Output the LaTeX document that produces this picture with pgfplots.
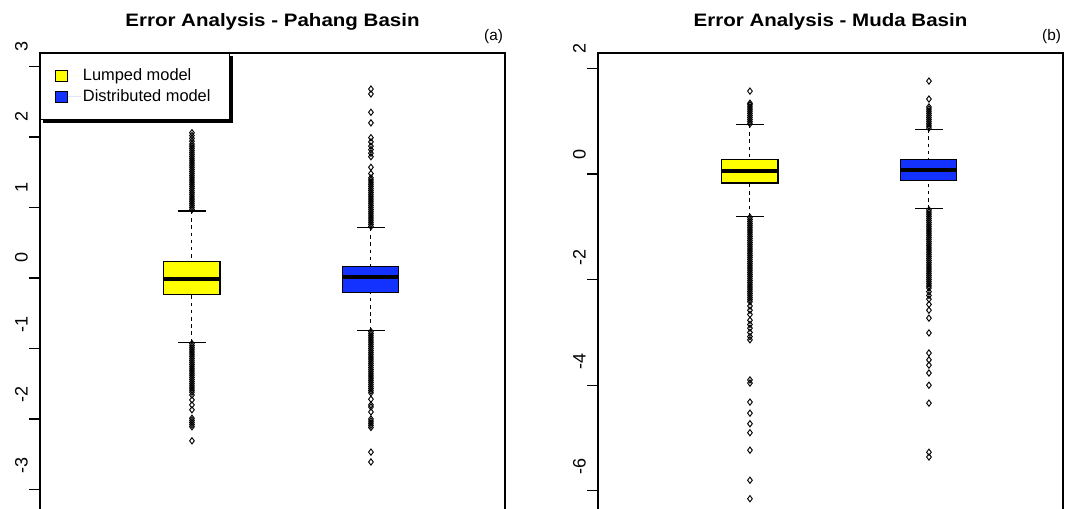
\documentclass[border=0pt]{standalone}
\usepackage{pgfplots}
\pgfplotsset{compat=1.18}
\usepgfplotslibrary{statistics}
\usepackage{fontspec}
\setmainfont{Liberation Sans}
\newfontfamily\titlefam[FakeStretch=1.14]{Liberation Sans}
\definecolor{rblue}{RGB}{20,50,255}
\definecolor{ryellow}{RGB}{255,255,0}

\pgfplotsset{
  rpanel/.style={
    scale only axis, width=348.75pt, height=350.25pt,
    xmin=0.151, xmax=2.749, xtick=\empty,
    axis line style={line width=0.9pt},
    clip=false,
    boxplot/draw direction=y,
    ytick pos=left, tick align=outside, major tick length=0pt,
    yticklabel style={rotate=90, anchor=south, inner sep=0pt, xshift=15pt, font=\fontsize{13.5}{16}\selectfont},
    yticklabel shift=9pt,
    extra y tick style={major tick length=8.25pt, tick style={line width=0.9pt, black}},
    title style={font=\titlefam\bfseries\fontsize{13.5}{16}\selectfont, at={(0.5,1)}, anchor=base, yshift=13.5pt},
    boxplot/box extend=0.313,
    boxplot/whisker extend=0.156,
    boxplot/every median/.style={line width=3.2pt, black},
    boxplot/draw/lower whisker/.code={%
      \draw[black, line width=0.7pt, dash pattern=on 2.6pt off 2.8pt]
        (boxplot box cs:\pgfplotsboxplotvalue{lower whisker},0.5) --
        (boxplot box cs:\pgfplotsboxplotvalue{lower quartile},0.5);
      \draw[black, line width=0.8pt]
        (boxplot whisker cs:\pgfplotsboxplotvalue{lower whisker},0) --
        (boxplot whisker cs:\pgfplotsboxplotvalue{lower whisker},1);
    },
    boxplot/draw/upper whisker/.code={%
      \draw[black, line width=0.7pt, dash pattern=on 2.6pt off 2.8pt]
        (boxplot box cs:\pgfplotsboxplotvalue{upper whisker},0.5) --
        (boxplot box cs:\pgfplotsboxplotvalue{upper quartile},0.5);
      \draw[black, line width=0.8pt]
        (boxplot whisker cs:\pgfplotsboxplotvalue{upper whisker},0) --
        (boxplot whisker cs:\pgfplotsboxplotvalue{upper whisker},1);
    },
  },
  rplot/.style={
    draw=black, line width=0.7pt,
    mark=diamond, mark size=2.35pt,
    mark options={solid, draw=black, line width=0.7pt},
    boxplot/every box/.style={fill=#1, draw=black, line width=0.8pt},
  },
}

% outliers, one column each
\pgfplotstableread[row sep=\\]{v\\
0.97\\1.00\\1.03\\1.06\\1.09\\1.12\\1.15\\1.18\\1.21\\1.24\\1.27\\1.30\\1.33\\1.36\\1.39\\1.42\\1.45\\1.48\\1.51\\1.54\\1.57\\1.60\\1.63\\1.66\\1.69\\1.72\\1.75\\1.78\\1.81\\1.84\\1.87\\1.90\\1.94\\1.98\\2.02\\2.06\\
-0.93\\-0.96\\-0.99\\-1.02\\-1.05\\-1.08\\-1.11\\-1.14\\-1.17\\-1.20\\-1.23\\-1.26\\-1.29\\-1.32\\-1.35\\-1.38\\-1.41\\-1.44\\-1.47\\-1.50\\-1.53\\-1.56\\-1.59\\-1.62\\-1.66\\-1.73\\-1.80\\-1.87\\-1.99\\-2.02\\-2.05\\-2.08\\-2.11\\-2.31\\
}\pahangL
\pgfplotstableread[row sep=\\]{v\\
0.73\\0.76\\0.79\\0.82\\0.85\\0.88\\0.91\\0.94\\0.97\\1.00\\1.03\\1.06\\1.09\\1.12\\1.15\\1.18\\1.21\\1.24\\1.27\\1.30\\1.33\\1.36\\1.39\\1.42\\1.48\\1.57\\1.72\\1.77\\1.82\\1.87\\1.93\\1.99\\2.20\\2.35\\2.61\\2.68\\
-0.76\\-0.79\\-0.82\\-0.85\\-0.88\\-0.91\\-0.94\\-0.97\\-1.00\\-1.03\\-1.06\\-1.09\\-1.12\\-1.15\\-1.18\\-1.21\\-1.24\\-1.27\\-1.30\\-1.33\\-1.36\\-1.39\\-1.42\\-1.45\\-1.48\\-1.51\\-1.54\\-1.57\\-1.60\\-1.63\\-1.72\\-1.80\\-1.83\\-1.90\\-2.00\\-2.03\\-2.06\\-2.09\\-2.12\\-2.47\\-2.61\\
}\pahangD
\pgfplotstableread[row sep=\\]{v\\
0.95\\0.99\\1.03\\1.07\\1.11\\1.15\\1.19\\1.23\\1.27\\1.31\\1.34\\1.57\\
-0.82\\-0.86\\-0.90\\-0.94\\-0.98\\-1.02\\-1.06\\-1.10\\-1.14\\-1.18\\-1.22\\-1.26\\-1.30\\-1.34\\-1.38\\-1.42\\-1.46\\-1.50\\-1.54\\-1.58\\-1.62\\-1.66\\-1.70\\-1.74\\-1.78\\-1.82\\-1.86\\-1.90\\-1.94\\-1.98\\-2.02\\-2.06\\-2.10\\-2.14\\-2.18\\-2.22\\-2.26\\-2.30\\-2.34\\-2.38\\-2.42\\
-2.50\\-2.58\\-2.66\\-2.77\\-2.85\\-2.92\\-3.00\\-3.08\\-3.14\\-3.90\\-3.96\\-4.32\\-4.53\\-4.73\\-4.90\\-5.23\\-5.80\\-6.15\\
}\mudaL
\pgfplotstableread[row sep=\\]{v\\
0.87\\0.91\\0.95\\0.99\\1.03\\1.07\\1.11\\1.15\\1.19\\1.23\\1.27\\1.42\\1.76\\
-0.68\\-0.72\\-0.76\\-0.80\\-0.84\\-0.88\\-0.92\\-0.96\\-1.00\\-1.04\\-1.08\\-1.12\\-1.16\\-1.20\\-1.24\\-1.28\\-1.32\\-1.36\\-1.40\\-1.44\\-1.48\\-1.52\\-1.56\\-1.60\\-1.64\\-1.68\\-1.72\\-1.76\\-1.80\\-1.84\\-1.88\\-1.92\\-1.96\\-2.00\\-2.04\\-2.08\\-2.12\\-2.16\\
-2.23\\-2.30\\-2.37\\-2.47\\-2.58\\-2.73\\-3.01\\-3.39\\-3.52\\-3.62\\-3.77\\-4.00\\-4.34\\-5.27\\-5.36\\
}\mudaD

\begin{document}
\begin{tikzpicture}
\useasboundingbox (0,0) rectangle (807pt,381pt);

% ---------------- Panel (a)
\begin{axis}[rpanel,
  at={(30pt,341.25pt)}, anchor=north west,
  ymin=-3.433, ymax=3.191,
  ytick={3,2,1,0,-1,-2,-3},
  yticklabels={3,2,1,0,\hspace*{6pt}-1,\hspace*{6pt}-2,\hspace*{6pt}-3},
  extra y ticks={3,2,1,0,-1,-2,-3},
  extra y tick labels={},
  title={Error Analysis - Pahang Basin},
  legend style={name=leg, at={(0,1)}, anchor=north west, draw=black, line width=0.9pt, fill=white,
    font=\fontsize{12.3}{14}\selectfont, inner xsep=10.5pt, inner ysep=10pt,
    row sep=2.4pt, nodes={inner sep=1.5pt}},
  legend cell align=left,
  legend image code/.code={\draw[#1, line width=0.5pt] (0pt,-4pt) rectangle (9.5pt,4.2pt); \path[draw=none] (0pt,0pt) -- (19.5pt,0pt);},
]
\addlegendimage{fill=ryellow, draw=black}
\addlegendentry{Lumped model}
\addlegendimage{fill=rblue, draw=black}
\addlegendentry{Distributed model\hspace*{2pt}}

\addplot[rplot=ryellow, boxplot prepared={draw position=1,
  lower whisker=-0.91, lower quartile=-0.24, median=-0.01,
  upper quartile=0.23, upper whisker=0.95}]
  table[y index=0] {\pahangL};
\addplot[rplot=rblue, boxplot prepared={draw position=2,
  lower whisker=-0.74, lower quartile=-0.21, median=0.01,
  upper quartile=0.16, upper whisker=0.71}]
  table[y index=0] {\pahangD};
\node[anchor=base east, font=\fontsize{11.5}{13}\selectfont, yshift=9pt, xshift=2pt] at (rel axis cs:1,1) {(a)};
\end{axis}
\draw[black, line width=2.2pt] ([xshift=1.1pt,yshift=-2pt]leg.north east) -- ([xshift=1.1pt,yshift=-1.1pt]leg.south east) -- ([xshift=2pt,yshift=-1.1pt]leg.south west);

% ---------------- Panel (b)
\begin{axis}[rpanel,
  at={(448.5pt,341.25pt)}, anchor=north west,
  ymin=-6.553, ymax=2.292,
  ytick={2,0,-2,-4,-6},
  yticklabels={2,0,\hspace*{3pt}-2,\hspace*{6pt}-4,\hspace*{6pt}-6},
  extra y ticks={2,0,-2,-4,-6},
  extra y tick labels={},
  title={Error Analysis - Muda Basin},
]
\addplot[rplot=ryellow, boxplot prepared={draw position=1,
  lower whisker=-0.80, lower quartile=-0.17, median=0.06,
  upper quartile=0.27, upper whisker=0.93}]
  table[y index=0] {\mudaL};
\addplot[rplot=rblue, boxplot prepared={draw position=2,
  lower whisker=-0.66, lower quartile=-0.13, median=0.08,
  upper quartile=0.28, upper whisker=0.85}]
  table[y index=0] {\mudaD};
\node[anchor=base east, font=\fontsize{11.5}{13}\selectfont, yshift=9pt, xshift=2pt] at (rel axis cs:1,1) {(b)};
\end{axis}
\end{tikzpicture}
\end{document}
